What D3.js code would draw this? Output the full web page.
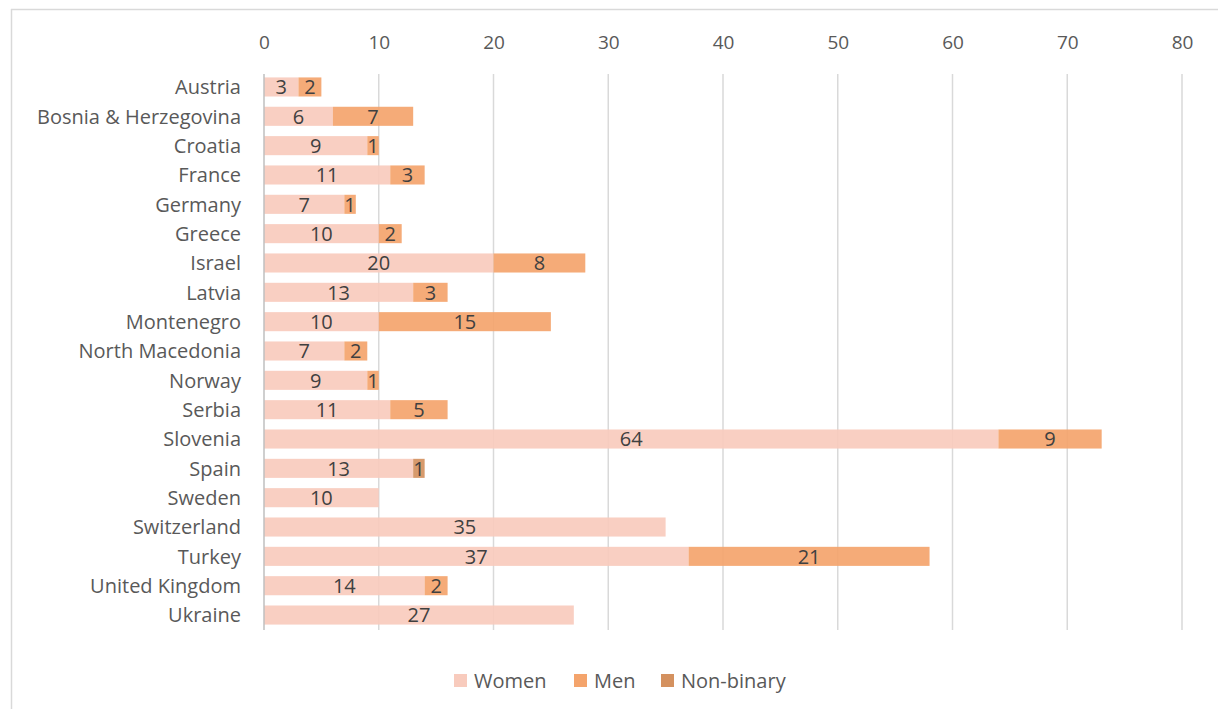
<!DOCTYPE html>
<html>
<head>
  <script src="https://cdn.jsdelivr.net/npm/d3@7"></script>
  <style>
    body { margin: 0; background: #fff; }
    text { font-family: "Open Sans", Lato, sans-serif; }
  </style>
</head>
<body>
  <div id="chart"></div>
  <script>
    const countries = ["Austria", "Bosnia & Herzegovina", "Croatia", "France", "Germany", "Greece",
      "Israel", "Latvia", "Montenegro", "North Macedonia", "Norway", "Serbia", "Slovenia", "Spain",
      "Sweden", "Switzerland", "Turkey", "United Kingdom", "Ukraine"];
    const women = [3, 6, 9, 11, 7, 10, 20, 13, 10, 7, 9, 11, 64, 13, 10, 35, 37, 14, 27];
    const men = [2, 7, 1, 3, 1, 2, 8, 3, 15, 2, 1, 5, 9, 0, 0, 0, 21, 2, 0];
    const nonBinary = [0, 0, 0, 0, 0, 0, 0, 0, 0, 0, 0, 0, 0, 1, 0, 0, 0, 0, 0];
    const seriesNames = ["Women", "Men", "Non-binary"];
    const colors = ["#f8cbbd", "#f4a46c", "#d4915f"];
    const xTicks = [0, 10, 20, 30, 40, 50, 60, 70, 80];

    const W = 1218, H = 709;
    const svg = d3.select("#chart").append("svg")
      .attr("width", W).attr("height", H);

    // outer frame (top and left edges only are visible)
    svg.append("line").attr("x1", 11).attr("x2", W).attr("y1", 9.5).attr("y2", 9.5)
      .attr("stroke", "#d9d9d9").attr("stroke-width", 1.5);
    svg.append("line").attr("x1", 11.5).attr("x2", 11.5).attr("y1", 9).attr("y2", H)
      .attr("stroke", "#d9d9d9").attr("stroke-width", 1.5);

    const x = d3.scaleLinear().domain([0, 80]).range([264, 1182]);
    const y = d3.scaleBand().domain(countries).range([72.3, 629.7]).paddingInner(0.35).paddingOuter(0.175);

    // gridlines
    svg.append("g").selectAll("line").data(xTicks.slice(1)).join("line")
      .attr("x1", d => x(d)).attr("x2", d => x(d))
      .attr("y1", 74).attr("y2", 630)
      .attr("stroke", "#d9d9d9").attr("stroke-width", 1.5);

    // top axis labels
    const xAxis = d3.axisTop(x).tickValues(xTicks).tickSize(0).tickPadding(0);
    const gx = svg.append("g").attr("transform", "translate(0,49)").call(xAxis);
    gx.select(".domain").remove();
    gx.selectAll("text").attr("fill", "#595959").style("font-size", "19px")
      .style("font-family", "'Open Sans', Lato, sans-serif");

    // stacked bars
    const table = countries.map((c, i) => ({ country: c, Women: women[i], Men: men[i], "Non-binary": nonBinary[i] }));
    const stack = d3.stack().keys(seriesNames)(table);

    const layers = svg.append("g").selectAll("g").data(stack).join("g")
      .attr("fill", (d, i) => colors[i]);

    layers.selectAll("rect").data(d => d.filter(s => s[1] - s[0] > 0)).join("rect")
      .attr("x", d => x(d[0]))
      .attr("width", d => x(d[1]) - x(d[0]))
      .attr("y", d => y(d.data.country))
      .attr("height", y.bandwidth())
      .attr("opacity", 0.92);

    layers.selectAll("text").data(d => d.filter(s => s[1] - s[0] > 0)).join("text")
      .attr("x", d => (x(d[0]) + x(d[1])) / 2)
      .attr("y", d => y(d.data.country) + y.bandwidth() / 2)
      .attr("dy", "0.36em")
      .attr("text-anchor", "middle")
      .attr("fill", "#404040")
      .style("font-size", "20px")
      .text(d => d[1] - d[0]);

    // left axis
    svg.append("line").attr("x1", x(0)).attr("x2", x(0)).attr("y1", 74).attr("y2", 630)
      .attr("stroke", "#bfbfbf").attr("stroke-width", 1.5);
    svg.append("g").selectAll("text").data(countries).join("text")
      .attr("x", 241)
      .attr("y", d => y(d) + y.bandwidth() / 2)
      .attr("dy", "0.36em")
      .attr("text-anchor", "end")
      .attr("fill", "#595959")
      .style("font-size", "20px")
      .text(d => d);

    // legend
    const legendX = [454, 574, 661];
    const legend = svg.append("g").selectAll("g").data(seriesNames).join("g")
      .attr("transform", (d, i) => `translate(${legendX[i]},681)`);
    legend.append("rect").attr("x", 0).attr("y", -7).attr("width", 13).attr("height", 13)
      .attr("fill", (d, i) => colors[i]);
    legend.append("text").attr("x", 20).attr("y", 0).attr("dy", "0.36em")
      .attr("fill", "#595959").style("font-size", "20px").text(d => d);
  </script>
</body>
</html>
